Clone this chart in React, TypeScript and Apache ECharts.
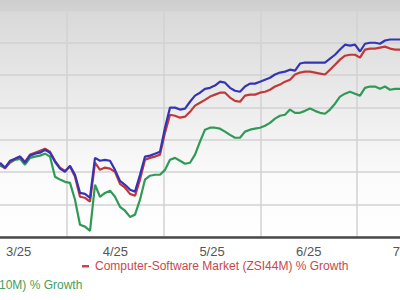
import React, { useEffect, useRef } from "react";
import * as echarts from "echarts";

const monthLabels = ["3/25", "4/25", "5/25", "6/25", "7/25"];

const stockGrowth = [
  -7.1, -8.6, -6.5, -5.9, -5.2, -7.1, -4.9, -4.3, -4.0, -3.1,
  -4.0, -6.8, -8.9, -9.9, -8.0, -10.8, -16.4, -16.7, -17.9, -5.6,
  -6.5, -6.2, -6.5, -9.3, -12.7, -13.9, -15.4, -16.0, -10.8, -5.2,
  -4.9, -4.3, -3.7, 3.7, 9.9, 9.9, 9.3, 9.6, 11.7, 13.6,
  14.5, 15.7, 16.0, 16.7, 17.9, 17.6, 16.0, 15.1, 14.8, 16.4,
  17.3, 17.3, 17.9, 18.5, 19.1, 20.1, 20.7, 21.0, 21.6, 21.3,
  23.5, 23.8, 23.8, 23.8, 23.8, 23.8, 25.0, 26.2, 27.8, 29.3,
  29.0, 29.3, 27.2, 29.6, 29.9, 29.9, 29.6, 30.6, 30.9, 30.9,
  30.9,
];

const industryGrowth = [
  -7.4, -8.9, -6.8, -5.9, -5.2, -6.8, -4.6, -4.0, -3.4, -2.8,
  -3.7, -6.5, -8.6, -9.6, -8.3, -11.4, -17.6, -17.9, -19.1, -7.1,
  -9.3, -8.6, -8.9, -9.9, -13.6, -14.8, -16.7, -17.3, -12.3, -6.2,
  -5.6, -5.2, -4.6, 2.2, 7.7, 7.4, 6.8, 7.1, 8.6, 10.5,
  11.4, 12.3, 13.3, 13.9, 14.5, 14.5, 13.0, 12.0, 11.7, 13.6,
  13.9, 13.9, 14.5, 14.8, 15.4, 16.4, 17.0, 17.9, 18.5, 20.1,
  20.7, 21.0, 21.0, 20.7, 20.4, 20.1, 21.6, 23.1, 24.7, 25.9,
  26.2, 26.2, 25.3, 27.8, 28.1, 28.1, 28.4, 28.7, 28.1, 27.8,
  27.8,
];

const sectorGrowth = [
  -8.0, -8.6, -7.1, -6.2, -5.9, -7.7, -5.6, -5.2, -4.9, -4.3,
  -5.2, -11.4, -12.3, -13.0, -13.3, -18.5, -26.2, -26.8, -28.1, -13.9,
  -17.6, -16.4, -15.7, -17.6, -20.7, -21.9, -23.8, -23.1, -18.5, -12.3,
  -11.1, -10.8, -10.8, -9.3, -6.2, -5.6, -6.5, -7.4, -7.1, -4.6,
  -0.6, 3.1, 3.7, 3.7, 3.4, 2.5, 1.5, 0.6, 0.6, 2.5,
  3.1, 3.4, 3.7, 4.3, 5.2, 6.5, 7.4, 7.7, 9.3, 8.3,
  8.3, 8.9, 9.6, 8.9, 8.3, 8.0, 9.3, 11.1, 13.3, 14.2,
  14.8, 14.2, 13.6, 16.0, 16.4, 16.4, 15.7, 16.4, 15.4, 15.7,
  15.7,
];

const pointIndex = stockGrowth.map((_, i) => String(i));

const industryLegend = "Computer-Software Market (ZSI44M) % Growth";
const sectorLegend = "10M) % Growth";

export default function App() {
  const ref = useRef<HTMLDivElement>(null);
  useEffect(() => {
    if (!ref.current) return;
    const chart = echarts.init(ref.current, null, { renderer: "svg" });
    const font = "'Liberation Sans', Arial, sans-serif";
    chart.setOption({
      animation: false,
      backgroundColor: "#ffffff",
      grid: [
        { left: -29.7, top: 10, width: 483.5, height: 227, outerBoundsMode: "none", containLabel: false },
        { left: 0, top: 10, width: 400, height: 227, outerBoundsMode: "none", containLabel: false },
      ],
      xAxis: [
        {
          type: "category",
          gridIndex: 0,
          data: monthLabels,
          boundaryGap: true,
          axisLine: { show: true, onZero: false, lineStyle: { color: "#4a4a4a", width: 2.5 } },
          axisTick: { show: false },
          splitLine: { show: true, interval: 0, lineStyle: { color: "#d2d2d2", width: 1.5 } },
          axisLabel: {
            color: "#555555",
            fontSize: 13,
            fontFamily: font,
            margin: 8,
            interval: 0,
          },
        },
        {
          type: "category",
          gridIndex: 1,
          data: pointIndex,
          boundaryGap: false,
          show: false,
        },
      ],
      yAxis: [
        {
          type: "value",
          gridIndex: 0,
          min: -30,
          max: 40,
          interval: 10,
          axisLine: { show: false },
          axisTick: { show: false },
          axisLabel: { show: false },
          splitLine: { show: true, lineStyle: { color: "#d2d2d2", width: 1.5 } },
        },
        {
          type: "value",
          gridIndex: 1,
          min: -30,
          max: 40,
          interval: 10,
          show: false,
          splitLine: { show: false },
        },
      ],
      graphic: [
        {
          type: "rect",
          z: -100,
          silent: true,
          shape: { x: 0, y: 0, width: 400, height: 237 },
          style: {
            fill: new echarts.graphic.LinearGradient(0, 0, 0, 1, [
              { offset: 0, color: "#cdcdcd" },
              { offset: 0.045, color: "#d3d3d3" },
              { offset: 0.05, color: "#d9d9d9" },
              { offset: 0.75, color: "#fbfbfb" },
              { offset: 1, color: "#ffffff" },
            ]),
          },
        },
        {
          type: "rect",
          z: 10,
          silent: true,
          shape: { x: 82, y: 265, width: 7, height: 2.5 },
          style: { fill: "#c9474c" },
        },
        {
          type: "text",
          z: 10,
          x: 95,
          y: 266,
          style: {
            text: industryLegend,
            fill: "#c9474c",
            font: `12px ${font}`,
            verticalAlign: "middle",
          },
        },
        {
          type: "text",
          z: 10,
          x: -1,
          y: 285,
          style: {
            text: sectorLegend,
            fill: "#3fa060",
            font: `12px ${font}`,
            verticalAlign: "middle",
          },
        },
      ],
      series: [
        {
          name: "Sector",
          type: "line",
          xAxisIndex: 1,
          yAxisIndex: 1,
          data: sectorGrowth,
          showSymbol: false,
          lineStyle: { color: "#2f9a55", width: 2.2 },
          z: 3,
        },
        {
          name: "Industry",
          type: "line",
          xAxisIndex: 1,
          yAxisIndex: 1,
          data: industryGrowth,
          showSymbol: false,
          lineStyle: { color: "#c23838", width: 2.2 },
          z: 4,
        },
        {
          name: "Stock",
          type: "line",
          xAxisIndex: 1,
          yAxisIndex: 1,
          data: stockGrowth,
          showSymbol: false,
          lineStyle: { color: "#3434b8", width: 2.2 },
          z: 5,
        },
      ],
    });
    return () => chart.dispose();
  }, []);
  return (
    <div
      ref={ref}
      style={{ position: "absolute", left: 0, top: 0, width: 400, height: 300 }}
    />
  );
}
